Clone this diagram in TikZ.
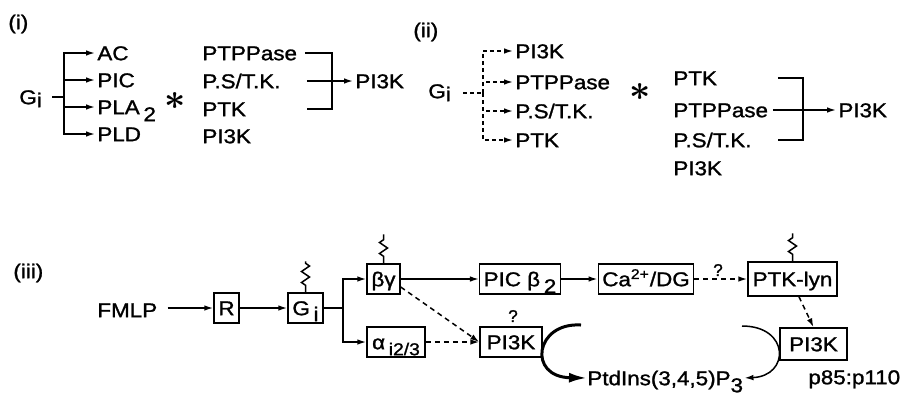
\documentclass[tikz,border=0pt]{standalone}
\usepackage{fontspec}
\setmainfont{Liberation Sans}[FakeBold=1.2]
\usepackage{tikz}
\usetikzlibrary{positioning, arrows.meta, decorations.pathmorphing}
\newcommand{\sx}[1]{\scalebox{1.12}[1]{#1}}
\newcommand{\dn}[2][1.5pt]{\raisebox{-#1}{#2}}
\newcommand{\subsz}{\fontsize{8.6}{9}\selectfont}

\begin{document}
\begin{tikzpicture}[x=0.5pt, y=-0.5pt,
    every node/.style={font=\fontsize{10}{12}\selectfont, inner sep=0pt},
    lbl/.style={anchor=west, text height=7.2pt, text depth=0pt},
    col/.style={lbl, text width=49pt},
    box/.style={draw, line width=0.75pt, minimum height=15pt, inner xsep=2pt,
                text height=7.2pt, text depth=0pt},
    star/.style={font=\fontsize{9}{11}\selectfont\boldmath},
    ln/.style={line width=0.75pt},
    arr/.style={-{Latex[length=4.5pt, width=2.8pt]}, line width=0.75pt},
    dsh/.style={arr, dash pattern=on 2pt off 1.5pt},
    dshl/.style={arr, dash pattern=on 2.5pt off 2pt},
    wig/.style={line width=0.75pt, decorate,
                decoration={zigzag, amplitude=2pt, segment length=5.5pt,
                            pre length=3.5pt, post length=0.5pt}}
]
\useasboundingbox (0,0) rectangle (904,398);

% ---- (i) ----
\node[lbl] (labA) at (8,22)  {\sx{(i)}};
\node[lbl] (giA)  at (19,97) {\sx{G\dn{i}}};
\node[lbl] (acA)  at (97,53)  {\sx{AC}};
\node[lbl] (picA) at (97,80)  {\sx{PIC}};
\node[lbl] (plaA) at (97,107) {\sx{PLA\,\dn[3.5pt]{2}}};
\node[lbl] (pldA) at (97,134) {\sx{PLD}};
\coordinate (brA) at (64,97);
\draw[ln, shorten <=5pt] (giA.east) -- (brA);
\foreach \n in {acA,picA,plaA,pldA}
    \draw[arr, shorten >=1pt] (brA) |- (\n.west);
\node[star] (stA) at (175,101) {\scalebox{2}{$\ast$}};
\node[col] (ptpA) at (202,53)  {\sx{PTPPase}};
\node[col] (psA)  at (202,81)  {\sx{P.S/T.K.}};
\node[col] (ptkA) at (202,109) {\sx{PTK}};
\node[col] (pikA) at (202,136) {\sx{PI3K}};
\coordinate (bkA) at (332,81);
\node[lbl] (outA) at (355,81) {\sx{PI3K}};
\draw[ln, shorten <=2pt, shorten >=3pt] (ptpA.east) -| (bkA) |- (ptkA.east);
\draw[arr, shorten <=3pt, shorten >=1pt] (psA.east) -- (outA.west);

% ---- (ii) ----
\node[lbl] (labB) at (413,30) {\sx{(ii)}};
\node[lbl] (giB)  at (428,91) {\sx{G\dn{i}}};
\node[lbl] (pikB) at (515,51)  {\sx{PI3K}};
\node[lbl] (ptpB) at (515,82)  {\sx{PTPPase}};
\node[lbl] (psB)  at (515,111) {\sx{P.S/T.K.}};
\node[lbl] (ptkB) at (515,140) {\sx{PTK}};
\coordinate (brB) at (483,93);
\draw[ln, dash pattern=on 2pt off 1.5pt, shorten <=6pt] (giB.east |- brB) -- (brB);
\foreach \n in {pikB,ptpB,psB,ptkB}
    \draw[dsh, shorten >=1pt] (brB) |- (\n.west);
\node[star] (stB) at (640,92) {\scalebox{2}{$\ast$}};
\node[col] (ptkB2) at (673,78)  {\sx{PTK}};
\node[col] (ptpB2) at (673,110) {\sx{PTPPase}};
\node[col] (psB2)  at (673,140) {\sx{P.S/T.K.}};
\node[col] (pikB2) at (673,168) {\sx{PI3K}};
\coordinate (bkB) at (803,110);
\node[lbl] (outB) at (838,110) {\sx{PI3K}};
\draw[ln, shorten <=3pt, shorten >=3pt] (ptkB2.east) -| (bkB) |- (psB2.east);
\draw[arr, shorten <=0.5pt, shorten >=1pt] (ptpB2.east) -- (outB.west);

% ---- (iii) ----
\node[lbl] (labC) at (13,271) {\sx{(iii)}};
\node[lbl] (fmlp) at (97,310) {\sx{FMLP}};
\node[box, minimum width=12.5pt] (rC)  at (226.5,308) {\sx{R}};
\node[box, minimum width=17.5pt] (giC) at (305.5,308) {\sx{G\,\dn[3pt]{i}}};
\coordinate (brC) at (343,308);
\node[box, minimum width=16.5pt] (bgC)   at (383.5,279) {\sx{βγ}};
\node[box, minimum width=29pt]   (alC)   at (396,342)   {\sx{α\,\dn[3pt]{\subsz i2/3}}};
\node[box, minimum width=40pt]   (picC)  at (520,279)   {\sx{PIC β\,\dn[3.5pt]{2}}};
\node[box, minimum width=47pt]   (caC)   at (646,279)   {\sx{Ca\textsuperscript{2+}/DG}};
\node[box, minimum width=44.5pt, minimum height=17pt] (ptklC) at (792.5,279) {\sx{PTK-lyn}};
\node[box, minimum width=31pt]   (pimC)  at (511,342)   {\sx{PI3K}};
\node[box, minimum width=33.5pt, minimum height=16pt] (pirC) at (813.5,344) {\sx{PI3K}};
\node[font=\fontsize{8.5}{9}\selectfont] (qA) at (513,316) {?};
\node[font=\fontsize{8.5}{9}\selectfont] (qB) at (718,270) {?};
\node[lbl] (ptd) at (587,378) {\sx{PtdIns(3,4,5)P\dn[3.5pt]{3}}};
\node[lbl] (p85) at (808,377) {\sx{p85:p110}};
\draw[arr, shorten <=5pt] (fmlp.east |- rC) -- (rC.west);
\draw[arr] (rC) -- (giC);
\draw[ln] (giC.east) -- (brC);
\draw[arr] (brC) |- (bgC.west);
\draw[arr] (brC) |- (alC.west);
\draw[arr] (bgC) -- (picC);
\draw[arr] (picC) -- (caC);
\draw[dshl] (caC) -- (ptklC);
\draw[dshl] (bgC.-25) -- (pimC.west);
\draw[dshl] (alC) -- (pimC);
\draw[dshl] (ptklC.290) -- (pirC.north);
\draw[wig] (giC.north) -- ++(0,-31);
\draw[wig] (bgC.north) -- ++(0,-29);
\draw[wig] (ptklC.north) -- ++(0,-28);
\coordinate (arcS) at (581,325);
\coordinate (arcT) at (742,326);
\draw[line width=1.5pt, -{Latex[length=9pt, width=5pt]}]
    (arcS) .. controls (535,322) and (527,377) .. (ptd.west);
\draw[arr, shorten >=0.5pt]
    (arcT) .. controls (790,326) and (790,376) .. (ptd.east);

\end{tikzpicture}
\end{document}
